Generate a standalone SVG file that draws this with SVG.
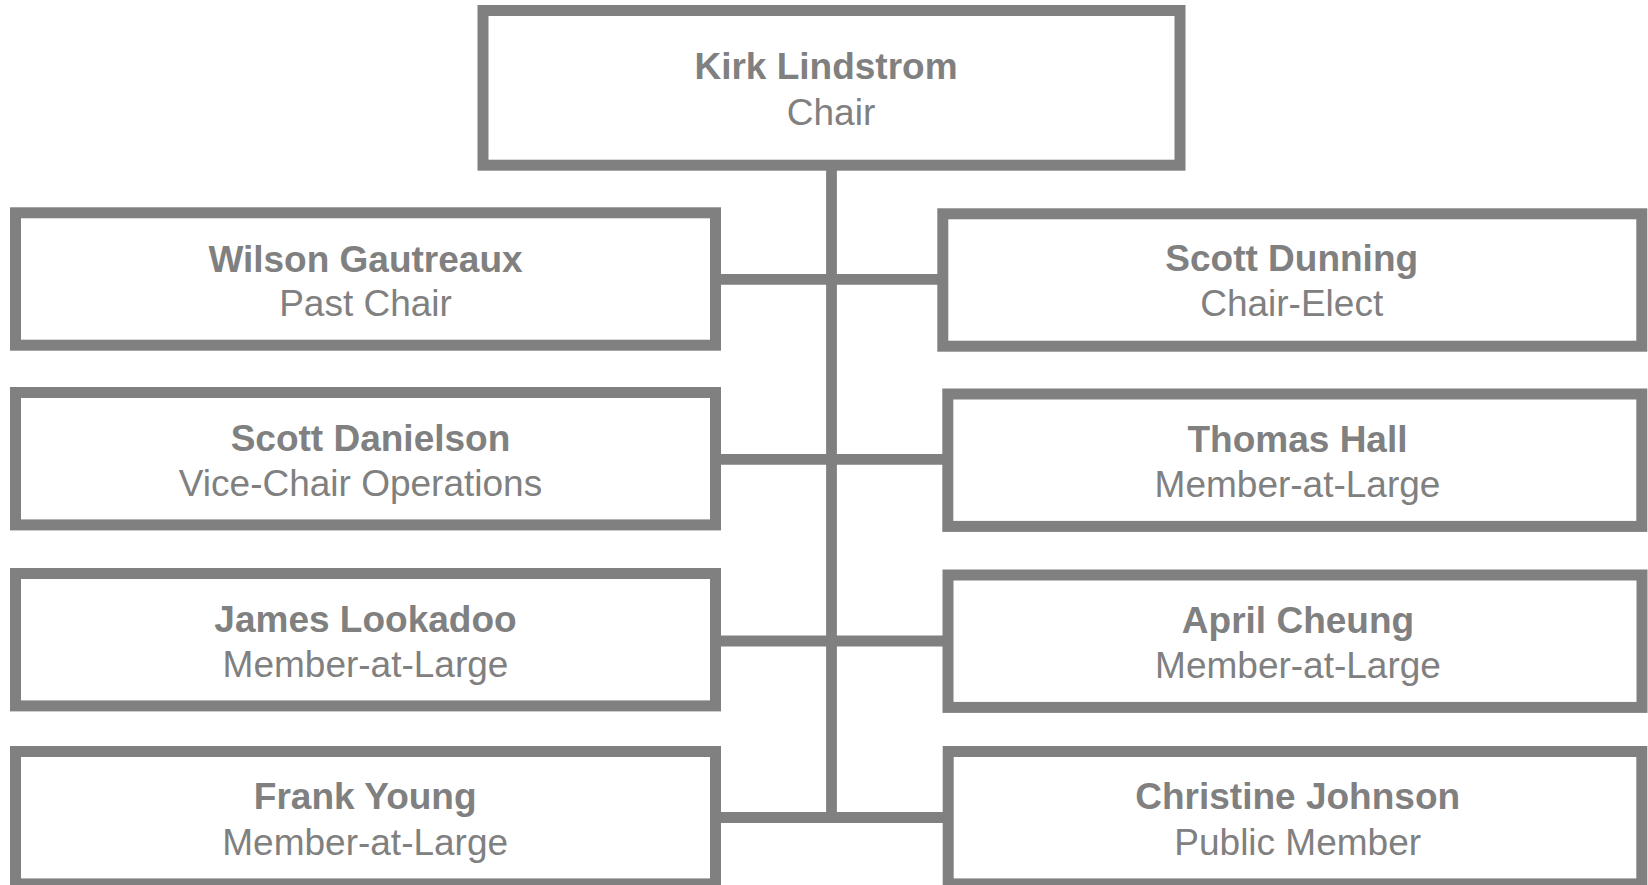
<svg xmlns="http://www.w3.org/2000/svg" width="1648" height="885" viewBox="0 0 1648 885">
<style>
.box{fill:#ffffff;stroke:#808080;stroke-width:11}
.con{stroke:#808080;stroke-width:10.8;fill:none;stroke-linecap:butt}
.name{font-family:"Liberation Sans",Arial,sans-serif;font-weight:bold;font-size:37px;fill:#808080;text-anchor:middle}
.role{font-family:"Liberation Sans",Arial,sans-serif;font-size:37px;fill:#808080;text-anchor:middle}
</style>
<rect width="1648" height="885" fill="#ffffff"/>
<g id="connectors">
<line class="con" x1="831.5" y1="165" x2="831.5" y2="822.8" stroke-width="11.2"/>
<line class="con" x1="715" y1="279.4" x2="943" y2="279.4"/>
<line class="con" x1="715" y1="459.3" x2="948" y2="459.3"/>
<line class="con" x1="715" y1="641" x2="948" y2="641"/>
<line class="con" x1="715" y1="817.5" x2="948" y2="817.5"/>
</g>
<g id="kirk">
<rect class="box" x="483" y="10.5" width="697" height="154.7"/>
<text class="name" x="826" y="79">Kirk Lindstrom</text>
<text class="role" x="831" y="124.5">Chair</text>
</g>
<g id="wilson">
<rect class="box" x="15.5" y="212.8" width="700" height="132.4"/>
<text class="name" x="365.5" y="271.5">Wilson Gautreaux</text>
<text class="role" x="365.5" y="315.5">Past Chair</text>
</g>
<g id="scott-dunning">
<rect class="box" x="942.8" y="213.8" width="699" height="132.4"/>
<text class="name" x="1291.7" y="271">Scott Dunning</text>
<text class="role" x="1291.7" y="315.5">Chair-Elect</text>
</g>
<g id="scott-danielson">
<rect class="box" x="15.5" y="392.5" width="700" height="132.4"/>
<text class="name" x="370.5" y="451">Scott Danielson</text>
<text class="role" x="360.5" y="496">Vice-Chair Operations</text>
</g>
<g id="thomas-hall">
<rect class="box" x="947.8" y="394" width="694" height="132.4"/>
<text class="name" x="1297.5" y="452">Thomas Hall</text>
<text class="role" x="1297.5" y="497">Member-at-Large</text>
</g>
<g id="james-lookadoo">
<rect class="box" x="15.5" y="573.5" width="700" height="132.4"/>
<text class="name" x="365.5" y="631.5">James Lookadoo</text>
<text class="role" x="365.5" y="676.5">Member-at-Large</text>
</g>
<g id="april-cheung">
<rect class="box" x="948" y="575" width="694" height="132.4"/>
<text class="name" x="1298" y="632.5">April Cheung</text>
<text class="role" x="1298" y="677.5">Member-at-Large</text>
</g>
<g id="frank-young">
<rect class="box" x="15.5" y="751.5" width="700" height="132.4"/>
<text class="name" x="365.2" y="809">Frank Young</text>
<text class="role" x="365.2" y="854.5">Member-at-Large</text>
</g>
<g id="christine-johnson">
<rect class="box" x="948.2" y="751.5" width="693.6" height="132.4"/>
<text class="name" x="1297.7" y="809">Christine Johnson</text>
<text class="role" x="1297.7" y="854.5">Public Member</text>
</g>
</svg>
